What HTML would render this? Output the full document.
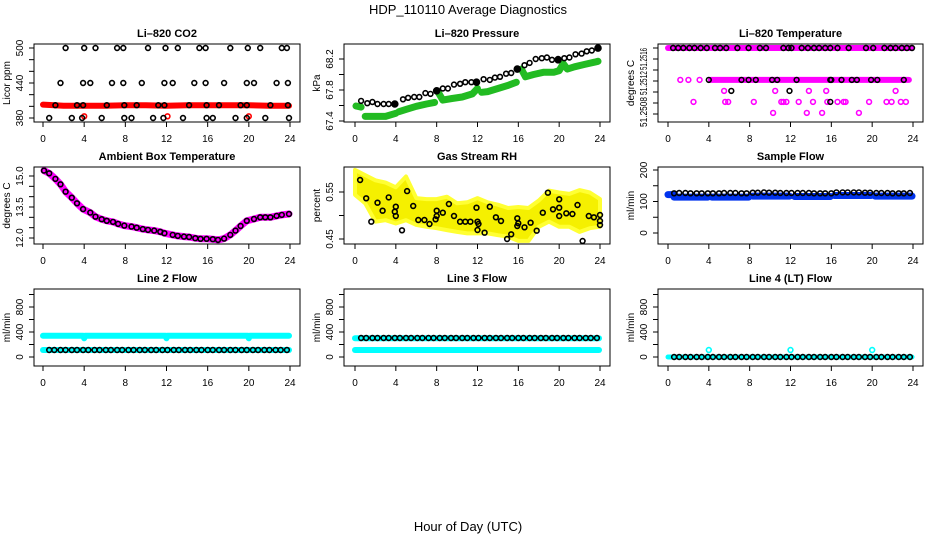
<!DOCTYPE html>
<html><head><meta charset="utf-8"><title>HDP_110110 Average Diagnostics</title>
<style>
html,body{margin:0;padding:0;background:#fff;}
svg{display:block;font-family:"Liberation Sans",sans-serif;}
</style></head>
<body>
<svg id="chart" width="936" height="540" viewBox="0 0 936 540" xmlns="http://www.w3.org/2000/svg">
<rect x="0" y="0" width="936" height="540" fill="#fff"/>
<text x="468" y="14" text-anchor="middle" font-size="13">HDP_110110  Average Diagnostics</text>
<text x="468" y="531" text-anchor="middle" font-size="13">Hour of Day (UTC)</text>
</svg>
<script>
// ---------- DATA ----------
const xTicks = [0,4,8,12,16,20,24];
const regHours = [0.6,1.1,1.7,2.2,2.8,3.3,3.9,4.4,5.0,5.5,6.1,6.6,7.2,7.7,8.3,8.8,9.4,9.9,10.5,11.0,11.6,12.1,12.7,13.2,13.8,14.3,14.9,15.4,16.0,16.5,17.1,17.6,18.2,18.7,19.3,19.8,20.4,20.9,21.5,22.0,22.6,23.1,23.7];

// CO2
const co2Hours = [2.2,4.0,5.1,7.2,7.8,10.2,11.9,13.1,15.2,15.8,18.2,19.9,21.1,23.2,23.7,
 1.7,3.9,4.6,6.7,7.8,9.6,11.8,12.6,14.7,15.8,17.6,19.8,20.5,22.7,23.8,
 1.2,3.3,3.9,6.2,7.9,9.1,11.2,11.8,14.2,15.9,17.1,19.2,19.8,22.1,23.8,
 0.6,2.8,3.8,5.7,7.9,8.6,10.7,11.7,13.6,15.9,16.5,18.7,19.8,21.6,23.9];
const co2Values = [500,500,500,500,500,500,500,500,500,500,500,500,500,500,500,
 440,440,440,440,440,440,440,440,440,440,440,440,440,440,440,
 402,402,402,402,402,402,402,402,402,402,402,402,402,402,402,
 380,380,380,380,380,380,380,380,380,380,380,380,380,380,380];
const co2RedHours = [0,2,4,6,8,10,12,14,16,18,20,22,23.9];
const co2RedValues = [403,401,401,401,402,402,401,402,402,402,402,401,401];
const co2RedOutH = [4.0,12.1,20.0];
const co2RedOutV = [383,383,383];

// Pressure
const pBlackH = [0.6,1.2,1.7,2.2,2.8,3.3,3.9,4.7,5.2,5.8,6.3,6.9,7.4,8.0,8.6,9.1,9.7,10.3,10.8,11.4,11.9,12.6,13.2,13.7,14.2,14.8,15.3,15.9,16.6,17.1,17.7,18.3,18.8,19.3,19.9,20.5,21.0,21.6,22.2,22.7,23.2,23.8];
const pBlackV = [67.66,67.63,67.645,67.62,67.62,67.62,67.62,67.68,67.70,67.71,67.71,67.76,67.75,67.79,67.82,67.82,67.87,67.88,67.90,67.90,67.90,67.94,67.93,67.96,67.97,68.01,68.02,68.07,68.12,68.15,68.20,68.21,68.22,68.19,68.20,68.21,68.22,68.26,68.27,68.30,68.31,68.34];
const pFilledH = [3.9,8.0,11.9,15.9,19.9,23.8];
const pFilledV = [67.62,67.79,67.90,68.07,68.19,68.34];
const pGreenH = [0.1,0.6,null,1.0,2.0,3.0,4.0,null,4.3,5.0,6.0,7.0,7.8,null,8.2,8.6,9.5,10.5,11.5,12.0,null,12.4,13.0,14.0,15.0,15.8,null,16.3,16.7,17.5,18.5,19.5,20.0,20.4,20.8,21.5,22.5,23.5,23.8];
const pGreenV = [67.594,67.58,null,67.46,67.46,67.46,67.50,null,67.52,67.55,67.59,67.62,67.64,null,67.76,67.67,67.69,67.71,67.75,67.82,null,67.77,67.78,67.82,67.86,67.90,null,68.07,67.97,68.00,68.03,68.03,68.05,68.14,68.07,68.10,68.13,68.16,68.17];

// Li-820 Temperature
const tTopBandStart = [0.0];
const tTopBandEnd = [23.9];
const tTopBandV = [51.2518];
const tMidBandStart = [4.2,16.2];
const tMidBandEnd = [15.9,23.6];
const tMidBandV = [51.25122,51.25122];
const tMagH = [1.2,2.0,3.1, 5.5,10.5,13.8,15.5,22.3, 2.5,5.6,5.9,8.4,11.1,11.3,11.6,12.8,14.2,15.6,16.6,17.2,17.4,19.7,21.4,21.9,22.8,23.3, 10.3,13.6,15.1,18.7];
const tMagV = [51.25122,51.25122,51.25122, 51.25102,51.25102,51.25102,51.25102,51.25102,
 51.25082,51.25082,51.25082,51.25082,51.25082,51.25082,51.25082,51.25082,51.25082,51.25082,51.25082,51.25082,51.25082,51.25082,51.25082,51.25082,51.25082,51.25082,
 51.25062,51.25062,51.25062,51.25062];
const tBlackH = [0.5,1.0,1.5,2.1,2.6,3.2,3.8,4.6,5.1,5.7,6.8,7.9,9.0,9.6,11.3,11.8,12.1,13.1,13.7,14.3,14.8,15.4,15.9,16.6,17.7,19.4,20.1,21.2,21.8,22.3,22.9,23.4,23.9,
 4.0,7.2,7.9,8.6,10.2,10.7,12.6,15.9,16.0,17.0,18.0,18.5,19.9,20.5,23.1,
 6.2,11.9,15.9];
const tBlackV = [51.2518,51.2518,51.2518,51.2518,51.2518,51.2518,51.2518,51.2518,51.2518,51.2518,51.2518,51.2518,51.2518,51.2518,51.2518,51.2518,51.2518,51.2518,51.2518,51.2518,51.2518,51.2518,51.2518,51.2518,51.2518,51.2518,51.2518,51.2518,51.2518,51.2518,51.2518,51.2518,51.2518,
 51.25122,51.25122,51.25122,51.25122,51.25122,51.25122,51.25122,51.25122,51.25122,51.25122,51.25122,51.25122,51.25122,51.25122,51.25122,
 51.25102,51.25102,51.25082];

// Ambient box temperature
const ambH = [0.1,0.6,1.2,1.7,2.2,2.8,3.3,3.9,4.6,5.1,5.7,6.2,6.8,7.3,7.9,8.6,9.1,9.7,10.2,10.8,11.4,11.8,12.6,13.1,13.7,14.2,14.8,15.3,15.9,16.5,17.0,17.6,18.2,18.7,19.2,19.8,20.5,21.1,21.6,22.1,22.7,23.2,23.9];
const ambV = [15.26,15.13,14.86,14.60,14.24,13.95,13.68,13.40,13.23,13.03,12.91,12.83,12.78,12.68,12.60,12.55,12.50,12.43,12.39,12.36,12.30,12.23,12.15,12.10,12.07,12.05,11.99,11.96,11.96,11.94,11.91,11.97,12.15,12.36,12.58,12.83,12.92,13.00,13.00,13.00,13.07,13.12,13.16];

// Gas stream RH
const rhEnvH = [0,1,2,3,4,5,6,7,8,9,10,11,12,13,14,15,16,17,18,19,20,21,22,23,24];
const rhUpper = [0.597,0.586,0.575,0.570,0.560,0.583,0.537,0.535,0.535,0.540,0.526,0.528,0.537,0.528,0.523,0.516,0.518,0.516,0.532,0.553,0.549,0.546,0.554,0.549,0.535];
const rhLower = [0.544,0.526,0.487,0.490,0.483,0.490,0.480,0.476,0.473,0.469,0.465,0.462,0.462,0.462,0.458,0.455,0.446,0.446,0.476,0.487,0.476,0.476,0.465,0.473,0.476];
const rhBlackH = [0.5,1.1,1.6,2.2,2.7,3.3,3.9,4.0,4.0,4.6,5.1,5.7,6.2,6.8,7.3,7.9,8.0,8.0,8.6,9.2,9.7,10.3,10.8,11.3,11.9,12.0,12.0,12.1,12.7,13.2,13.8,14.3,14.9,15.3,15.9,15.9,16.0,16.6,17.2,17.8,18.4,18.9,19.4,20.0,20.0,20.0,20.7,21.3,21.8,22.3,22.9,23.4,24.0,24.0,24.0];
const rhBlackV = [0.5755,0.5366,0.4868,0.5273,0.5102,0.5386,0.508,0.499,0.5187,0.4685,0.552,0.5202,0.4904,0.4904,0.4819,0.4919,0.499,0.5102,0.506,0.5245,0.499,0.4868,0.4868,0.4868,0.5166,0.4868,0.4691,0.4819,0.4634,0.5187,0.4961,0.4883,0.45,0.46,0.494,0.4777,0.4834,0.4749,0.4847,0.4677,0.506,0.5486,0.5132,0.5344,0.5166,0.499,0.5047,0.5032,0.5223,0.4457,0.499,0.4961,0.501,0.4883,0.4798];

// Sample flow
const sfSegStart = [0.0,0.6,4.3,8.3,12.4,16.3,20.3];
const sfSegEnd = [0.5,3.9,7.9,11.9,15.9,19.9,23.9];
const sfSegVal = [122,114,114,117,116,119,117];
const sfBlackV = [126,127,127,126,126,126,126,126,126,127,127,127,126,126,128,128,129,128,128,127,127,127,127,127,127,126,126,126,126,129,129,129,129,129,128,128,127,127,127,126,126,126,127];

// Line 2/3/4 flows
const l2HiH = [0.0,3.9,4.0,4.1,11.9,12.0,12.1,19.9,20.0,20.1,23.9];
const l2HiV = [340,340,300,340,340,300,340,340,300,340,340];
const l2LoH = [0.0,23.9];
const l2LoV = [112,112];
const l2BlackV = 112;
const l3HiH = [0.0,23.9];
const l3HiV = [300,300];
const l3LoH = [0.0,23.9];
const l3LoV = [112,112];
const l3BlackV = 304;
const l4BandH = [0.0,23.9];
const l4BandV = [0,0];
const l4CyanOutH = [4.0,12.0,20.0];
const l4CyanOutV = [112,112,112];
const l4BlackV = 0;

// ---------- DRAWING ----------
const NS = 'http://www.w3.org/2000/svg';
const svg = document.getElementById('chart');
function mk(tag, attrs, parent){
  const el = document.createElementNS(NS, tag);
  for (const k in attrs) el.setAttribute(k, attrs[k]);
  (parent||svg).appendChild(el);
  return el;
}
function lin(d0,p0,d1,p1){ return v => p0 + (v-d0)*(p1-p0)/(d1-d0); }

function makePanel(cfg){
  const g = mk('g', {});
  
  
  const xs = lin(0,cfg.x0,24,cfg.x24);
  const ys = lin(cfg.yd0,cfg.yp0,cfg.yd1,cfg.yp1);
  const title = mk('text', {x:(cfg.left+cfg.right)/2, y:cfg.top-7, 'text-anchor':'middle','font-size':11,'font-weight':'bold'}, g);
  title.textContent = cfg.title;
  
  
  const box = mk('rect', {x:cfg.left, y:cfg.top, width:cfg.right-cfg.left, height:cfg.bottom-cfg.top, fill:'none', stroke:'#000','stroke-width':1}, g);
  
  
  xTicks.forEach(t => {
    const tk = mk('line', {x1:xs(t), x2:xs(t), y1:cfg.bottom, y2:cfg.bottom+5, stroke:'#000'}, g);
    
    
    const lb = mk('text', {x:xs(t), y:cfg.bottom+20, 'text-anchor':'middle','font-size':10}, g);
    lb.textContent = t;
    
    
  });
  cfg.yTicks.forEach(t => {
    const tk = mk('line', {x1:cfg.left-5, x2:cfg.left, y1:ys(t), y2:ys(t), stroke:'#000'}, g);
    
    
  });
  cfg.yLabels.forEach((t,i) => {
    const yy = cfg.yLabelPos ? cfg.yLabelPos[i] : ys(t);
    const attrs = {x:0, y:0, 'text-anchor':'middle','font-size':10, transform:`translate(${cfg.left-11},${yy}) rotate(-90)`};
    if (cfg.yLabelLen){ attrs.textLength = cfg.yLabelLen[i]; attrs.lengthAdjust = 'spacingAndGlyphs'; }
    const lb = mk('text', attrs, g);
    lb.textContent = cfg.yLabelText ? cfg.yLabelText[i] : t;
    
    
  });
  const yt = mk('text', {x:0,y:0,'text-anchor':'middle','font-size':10, transform:`translate(${cfg.left-24},${(cfg.top+cfg.bottom)/2}) rotate(-90)`}, g);
  yt.textContent = cfg.ylab;
  
  
  const clip = mk('g', {}, g);
  
  
  return {g:clip, xs, ys};
}
function band(p, hs, vs, color, w, name){
  let d = '', pen = false;
  for (let i=0;i<hs.length;i++){
    if (hs[i]===null || vs[i]===null){ pen=false; continue; }
    d += (pen?'L':'M') + p.xs(hs[i]).toFixed(1) + ' ' + p.ys(vs[i]).toFixed(1) + ' ';
    pen = true;
  }
  const el = mk('path', {d:d, fill:'none', stroke:color, 'stroke-width':w, 'stroke-linecap':'round','stroke-linejoin':'round'}, p.g);
  
  
}
function pts(p, hs, vs, color, name, filled, r){
  for (let i=0;i<hs.length;i++){
    const v = Array.isArray(vs) ? vs[i] : vs;
    const c = mk('circle', {cx:p.xs(hs[i]).toFixed(1), cy:p.ys(v).toFixed(1), r:r||2.4, fill:filled?color:'none', stroke:color, 'stroke-width':1.6}, p.g);
    
    
  }
}
function segs(p, s, e, v, color, w, name){
  for (let i=0;i<s.length;i++) band(p, [s[i],e[i]], [v[i],v[i]], color, w, name);
}

const col = [{left:34,right:300,x0:43,x24:290},{left:344,right:610,x0:355,x24:600},{left:658,right:923,x0:668,x24:913}];
const rows = [{top:44,bottom:122},{top:167,bottom:244},{top:289,bottom:366}];
function geo(c,r,extra){ return Object.assign({}, col[c], rows[r], extra); }

// Panel 1: CO2
let p = makePanel(geo(0,0,{name:'panel-co2',title:'Li\u2013820 CO2',ylab:'Licor ppm',yd0:380,yp0:118,yd1:500,yp1:48,yTicks:[380,400,420,440,460,480,500],yLabels:[380,440,500]}));
band(p, co2RedHours, co2RedValues, '#ff0000', 6, 'co2-red-band');
pts(p, co2RedOutH, co2RedOutV, '#ff0000', 'co2-red-point');
pts(p, co2Hours, co2Values, '#000', 'co2-point');

// Panel 2: Pressure
p = makePanel(geo(1,0,{name:'panel-pressure',title:'Li\u2013820 Pressure',ylab:'kPa',yd0:67.4,yp0:121,yd1:68.2,yp1:59,yTicks:[67.4,67.6,67.8,68.0,68.2],yLabels:[67.4,67.8,68.2]}));
band(p, pGreenH, pGreenV, '#22bb22', 7, 'pressure-green-band');
pts(p, pBlackH, pBlackV, '#000', 'pressure-point');
pts(p, pFilledH, pFilledV, '#000', 'pressure-cluster', true, 3);

// Panel 3: Li-820 Temperature
p = makePanel(geo(2,0,{name:'panel-licor-temp',title:'Li\u2013820 Temperature',ylab:'degrees C',yd0:51.2518,yp0:48,yd1:51.2506,yp1:114,yTicks:[51.2518,51.2516,51.2514,51.2512,51.2510,51.2508,51.2506],yLabels:[0,1,2],yLabelPos:[59,83,112],yLabelText:['51.2516','51.2512','51.2508'],yLabelLen:[22,24,30]}));
segs(p, tTopBandStart, tTopBandEnd, tTopBandV, '#ff00ff', 6, 'licor-temp-band');
segs(p, tMidBandStart, tMidBandEnd, tMidBandV, '#ff00ff', 6, 'licor-temp-band');
pts(p, tMagH, tMagV, '#ff00ff', 'licor-temp-magenta-point');
pts(p, tBlackH, tBlackV, '#000', 'licor-temp-point');

// Panel 4: Ambient
p = makePanel(geo(0,1,{name:'panel-ambient-temp',title:'Ambient Box Temperature',ylab:'degrees C',yd0:12,yp0:238,yd1:15,yp1:176,yTicks:[12,12.5,13,13.5,14,14.5,15],yLabels:[12,13.5,15],yLabelText:['12.0','13.5','15.0']}));
band(p, ambH, ambV, '#ff00ff', 7, 'ambient-magenta-band');
pts(p, ambH, ambV, '#000', 'ambient-point');

// Panel 5: RH
p = makePanel(geo(1,1,{name:'panel-rh',title:'Gas Stream RH',ylab:'percent',yd0:0.45,yp0:239,yd1:0.55,yp1:192,yTicks:[0.45,0.50,0.55],yLabels:[0.45,0.55],yLabelText:['0.45','0.55']}));
(function(){
  let d='';
  rhEnvH.forEach((h,i)=>{ d += (i?'L':'M')+p.xs(h).toFixed(1)+' '+p.ys(rhUpper[i]).toFixed(1)+' '; });
  for (let i=rhEnvH.length-1;i>=0;i--) d += 'L'+p.xs(rhEnvH[i]).toFixed(1)+' '+p.ys(rhLower[i]).toFixed(1)+' ';
  d += 'Z';
  const el = mk('path', {d:d, fill:'#f5f000', stroke:'#ffff33','stroke-width':4,'stroke-linejoin':'round'}, p.g);
  
  
})();
pts(p, rhBlackH, rhBlackV, '#000', 'rh-point');

// Panel 6: Sample flow
p = makePanel(geo(2,1,{name:'panel-sample-flow',title:'Sample Flow',ylab:'ml/min',yd0:0,yp0:233,yd1:200,yp1:170,yTicks:[0,50,100,150,200],yLabels:[0,100,200]}));
segs(p, sfSegStart, sfSegEnd, sfSegVal, '#0033ee', 7, 'sample-flow-blue-band');
pts(p, regHours, sfBlackV, '#000', 'sample-flow-point');

// Panel 7: Line 2
const flowTicks = {yd0:0,yp0:357,yd1:800,yp1:307,yTicks:[0,200,400,600,800,1000],yLabels:[0,400,800],ylab:'ml/min'};
p = makePanel(geo(0,2,Object.assign({name:'panel-line2-flow',title:'Line 2 Flow'},flowTicks)));
band(p, l2HiH, l2HiV, '#00ffff', 6, 'line2-cyan-high');
band(p, l2LoH, l2LoV, '#00ffff', 6, 'line2-cyan-low');
pts(p, regHours, l2BlackV, '#000', 'line2-point');

// Panel 8: Line 3
p = makePanel(geo(1,2,Object.assign({name:'panel-line3-flow',title:'Line 3 Flow'},flowTicks)));
band(p, l3HiH, l3HiV, '#00ffff', 6, 'line3-cyan-high');
band(p, l3LoH, l3LoV, '#00ffff', 6, 'line3-cyan-low');
pts(p, regHours, l3BlackV, '#000', 'line3-point');

// Panel 9: Line 4
p = makePanel(geo(2,2,Object.assign({name:'panel-line4-flow',title:'Line 4 (LT) Flow'},flowTicks)));
band(p, l4BandH, l4BandV, '#00ffff', 5, 'line4-cyan-band');
pts(p, l4CyanOutH, l4CyanOutV, '#00ffff', 'line4-cyan-point');
pts(p, regHours, l4BlackV, '#000', 'line4-point');
</script>
</body></html>
